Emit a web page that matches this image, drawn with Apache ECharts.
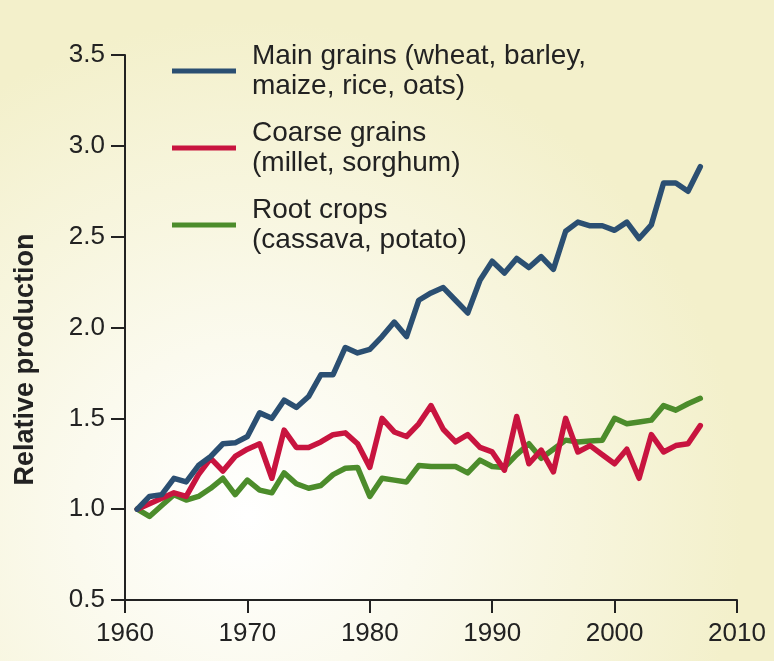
<!DOCTYPE html>
<html>
<head>
<meta charset="utf-8">
<script src="https://cdn.jsdelivr.net/npm/echarts@6/dist/echarts.min.js"></script>
<style>
  html, body { margin: 0; padding: 0; }
  #chart { width: 774px; height: 661px; }
</style>
</head>
<body>
<div id="chart"></div>
<script>
// years 1961-2007
const years = []
for (let y = 1961; y <= 2007; y++) years.push(y)

const mainGrains = [
  1.00, 1.07, 1.08, 1.17, 1.15, 1.24, 1.29, 1.36, 1.365, 1.40,
  1.53, 1.50, 1.60, 1.56, 1.62, 1.74, 1.74, 1.89, 1.86, 1.88,
  1.95, 2.03, 1.95, 2.15, 2.19, 2.22, 2.15, 2.08, 2.26, 2.365,
  2.30, 2.38, 2.33, 2.39, 2.32, 2.53, 2.58, 2.56, 2.56, 2.535,
  2.58, 2.49, 2.565, 2.795, 2.795, 2.75, 2.885
]
const coarseGrains = [
  1.00, 1.03, 1.06, 1.09, 1.07, 1.19, 1.28, 1.21, 1.29, 1.33,
  1.36, 1.17, 1.435, 1.34, 1.34, 1.37, 1.41, 1.42, 1.36, 1.23,
  1.50, 1.425, 1.40, 1.47, 1.57, 1.44, 1.37, 1.41, 1.34, 1.315,
  1.215, 1.51, 1.25, 1.325, 1.205, 1.50, 1.315, 1.35, 1.30, 1.25,
  1.33, 1.17, 1.41, 1.315, 1.35, 1.36, 1.46
]
const rootCrops = [
  1.00, 0.96, 1.02, 1.08, 1.05, 1.07, 1.115, 1.17, 1.08, 1.16,
  1.105, 1.09, 1.20, 1.14, 1.115, 1.13, 1.19, 1.225, 1.23, 1.07,
  1.17, 1.16, 1.15, 1.24, 1.235, 1.235, 1.235, 1.20, 1.27, 1.235,
  1.23, 1.30, 1.36, 1.28, 1.33, 1.38, 1.37, 1.375, 1.38, 1.50,
  1.47, 1.48, 1.49, 1.57, 1.545, 1.58, 1.61
]

const names = [
  'Main grains (wheat, barley,\nmaize, rice, oats)',
  'Coarse grains\n(millet, sorghum)',
  'Root crops\n(cassava, potato)'
]
const colors = ['#2b4f72', '#c8143f', '#4c8c2b']
const seriesData = [mainGrains, coarseGrains, rootCrops]

const font = 'Liberation Sans, Arial, sans-serif'

let myChart = echarts.init(document.getElementById('chart'))
myChart.setOption({
  backgroundColor: {
    type: 'radial', x: 0.32, y: 0.78, r: 0.75,
    colorStops: [
      { offset: 0, color: '#ffffff' },
      { offset: 0.35, color: '#fbfaee' },
      { offset: 1, color: '#f3f0cb' }
    ]
  },
  animation: false,
  grid: { left: 125, right: 37, top: 55, bottom: 61 },
  legend: {
    orient: 'vertical',
    left: 167,
    top: 36,
    itemWidth: 64,
    itemHeight: 5,
    itemGap: 17,
    icon: 'rect',
    textStyle: {
      fontFamily: font, fontSize: 28, color: '#222', lineHeight: 30,
      padding: [0, 0, 0, 11]
    },
    data: names
  },
  xAxis: {
    type: 'value',
    min: 1960, max: 2010, interval: 10,
    splitLine: { show: false },
    axisLine: { lineStyle: { color: '#222', width: 2 } },
    axisTick: { length: 13, lineStyle: { color: '#222', width: 2 } },
    axisLabel: {
      fontFamily: font, fontSize: 26, color: '#222', margin: 21,
      formatter: v => String(v)
    }
  },
  yAxis: {
    type: 'value',
    min: 0.5, max: 3.5, interval: 0.5,
    name: 'Relative production',
    nameLocation: 'middle',
    nameGap: 86,
    // push the title a bit lower than the axis middle, like the original
    nameTextStyle: {
      fontFamily: font, fontSize: 27, fontWeight: 'bold', color: '#222',
      padding: [0, 64, 0, 0]
    },
    splitLine: { show: false },
    axisLine: { show: true, lineStyle: { color: '#222', width: 2 } },
    axisTick: { show: true, length: 14, lineStyle: { color: '#222', width: 2 } },
    axisLabel: {
      fontFamily: font, fontSize: 26, color: '#222', margin: 20,
      formatter: v => v.toFixed(1)
    }
  },
  series: names.map((n, i) => ({
    name: n,
    type: 'line',
    showSymbol: false,
    symbol: 'none',
    color: colors[i],
    lineStyle: { width: 5.5, color: colors[i], cap: 'round', join: 'round' },
    z: 3 - i,
    data: years.map((y, k) => [y, seriesData[i][k]])
  }))
})
</script>
</body>
</html>
